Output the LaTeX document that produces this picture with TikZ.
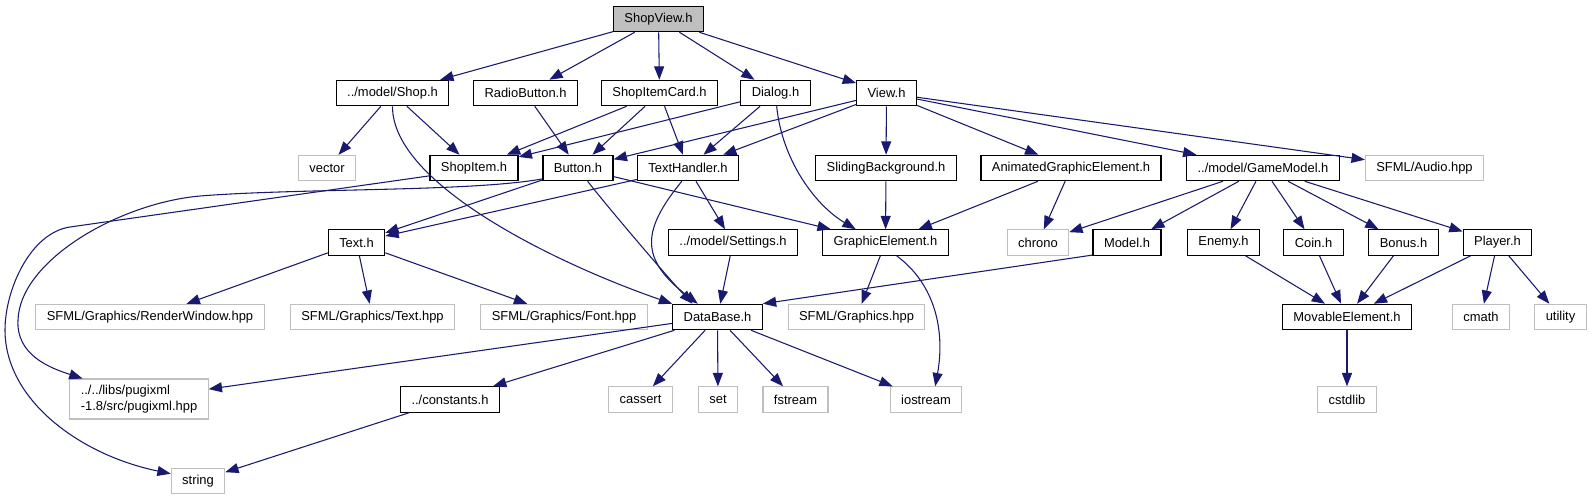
\documentclass[tikz,border=0pt]{standalone}
\usepackage{fontspec}
\setmainfont{Liberation Sans}
\usepackage{xcolor}
\usepackage{tikz}
\usetikzlibrary{arrows.meta}

\definecolor{kante}{HTML}{191970}
\definecolor{grau}{HTML}{BFBFBF}

\begin{document}
\begin{tikzpicture}[x=0.75pt, y=-0.75pt, >={Triangle[length=10pt, width=7.5pt]},
    font=\fontsize{9.7}{11.6}\selectfont,
    datei/.style={draw=black, line width=0.9pt, fill=white, inner xsep=8.2pt, inner ysep=3pt, minimum height=19pt},
    extern/.style={draw=grau, line width=0.8pt, fill=white, inner xsep=8.2pt, inner ysep=3pt, minimum height=19pt},
    pfeil/.style={->, draw=kante, line width=0.8pt}]

    \useasboundingbox (0,0) rectangle (1593,500);

    % --- Zeile 1: Startdatei ---
    \node[datei, fill=grau] (shopview) at (658.5,19) {ShopView.h};

    % --- Zeile 2 ---
    \node[datei] (shop) at (392.5,93) {../model/Shop.h};
    \node[datei] (radiobutton) at (525.5,93) {RadioButton.h};
    \node[datei] (shopitemcard) at (659.5,93) {ShopItemCard.h};
    \node[datei] (dialog) at (775.5,93) {Dialog.h};
    \node[datei] (view) at (886.5,93) {View.h};

    % --- Zeile 3 ---
    \node[extern] (vector) at (327,168) {vector};
    \node[datei] (shopitem) at (474,168) {ShopItem.h};
    \node[datei] (button) at (578,168) {Button.h};
    \node[datei] (texthandler) at (688,168) {TextHandler.h};
    \node[datei] (sliding) at (886,168) {SlidingBackground.h};
    \node[datei] (animated) at (1071,168) {AnimatedGraphicElement.h};
    \node[datei] (gamemodel) at (1263,168) {../model/GameModel.h};
    \node[extern] (audio) at (1424.5,168) {SFML/Audio.hpp};

    % --- Zeile 4 ---
    \node[datei] (text) at (356.5,242.5) {Text.h};
    \node[datei] (settings) at (733,242.5) {../model/Settings.h};
    \node[datei] (graphic) at (885.5,242.5) {GraphicElement.h};
    \node[extern] (chrono) at (1038,242.5) {chrono};
    \node[datei] (model) at (1127,242.5) {Model.h};
    \node[datei] (enemy) at (1223.5,242.5) {Enemy.h};
    \node[datei] (coin) at (1313.5,242.5) {Coin.h};
    \node[datei] (bonus) at (1403.5,242.5) {Bonus.h};
    \node[datei] (player) at (1497.5,242.5) {Player.h};

    % --- Zeile 5 ---
    \node[extern] (renderwindow) at (150,317) {SFML/Graphics/RenderWindow.hpp};
    \node[extern] (texthpp) at (372.5,317) {SFML/Graphics/Text.hpp};
    \node[extern] (font) at (564,317) {SFML/Graphics/Font.hpp};
    \node[datei] (database) at (717.5,317) {DataBase.h};
    \node[extern] (graphicshpp) at (856.5,317) {SFML/Graphics.hpp};
    \node[datei] (movable) at (1347,317) {MovableElement.h};
    \node[extern] (cmath) at (1481,317) {cmath};
    \node[extern] (utility) at (1560.5,317) {utility};

    % --- Zeile 6 und 7 ---
    \node[extern, align=left, minimum height=30pt] (pugixml) at (139,399) {../../libs/pugixml\\-1.8/src/pugixml.hpp};
    \node[datei] (constants) at (450,399.5) {../constants.h};
    \node[extern] (cassert) at (640.5,399.5) {cassert};
    \node[extern] (set) at (718,399.5) {set};
    \node[extern] (fstream) at (795.5,399.5) {fstream};
    \node[extern] (iostream) at (926,399.5) {iostream};
    \node[extern] (cstdlib) at (1347,399.5) {cstdlib};
    \node[extern] (string) at (198,481) {string};

    % --- Kanten ---
    \draw[pfeil] (shopview) -- (shop);
    \draw[pfeil] (shopview) -- (radiobutton);
    \draw[pfeil] (shopview) -- (shopitemcard);
    \draw[pfeil] (shopview) -- (dialog);
    \draw[pfeil] (shopview) -- (view);

    \draw[pfeil] (shop) -- (vector);
    \draw[pfeil] (shop) -- (shopitem);
    \draw[pfeil] (shop.south) .. controls (392,185) and (560,265) .. (database.north west);
    \draw[pfeil] (radiobutton) -- (button);
    \draw[pfeil] (shopitemcard) -- (shopitem);
    \draw[pfeil] (shopitemcard) -- (button);
    \draw[pfeil] (shopitemcard) -- (texthandler);
    \draw[pfeil] (dialog) -- (shopitem);
    \draw[pfeil] (dialog) -- (texthandler);
    \draw[pfeil] (dialog.-85) .. controls (782,160) and (815,205) .. (graphic.156);

    % View.h
    \draw[pfeil] (view) -- (button);
    \draw[pfeil] (view) -- (texthandler);
    \draw[pfeil] (view) -- (sliding);
    \draw[pfeil] (view) -- (animated);
    \draw[pfeil] (view) -- (gamemodel);
    \draw[pfeil] (view) -- (audio);

    % lange Bögen links
    \draw[pfeil] (shopitem.190) -- (70,227) .. controls (30,233) and (5,290) .. (5,330)
        .. controls (5,400) and (80,455) .. (string.165);
    \draw[pfeil] (button.197) .. controls (470,192) and (300,188) .. (200,196)
        .. controls (120,203) and (20,260) .. (18,320) .. controls (16,355) and (50,368) .. (pugixml.160);

    \draw[pfeil] (button) -- (text);
    \draw[pfeil] (button.-54) .. controls (610,210) and (670,280) .. (database.152);
    \draw[pfeil] (button) -- (graphic);
    \draw[pfeil] (texthandler) -- (text);
    \draw[pfeil] (texthandler) -- (settings);
    \draw[pfeil] (texthandler.-115) .. controls (642,230) and (639,259) .. (database.146);
    \draw[pfeil] (sliding) -- (graphic);
    \draw[pfeil] (animated) -- (graphic);
    \draw[pfeil] (animated) -- (chrono);

    % GameModel
    \draw[pfeil] (gamemodel) -- (chrono);
    \draw[pfeil] (gamemodel) -- (model);
    \draw[pfeil] (gamemodel) -- (enemy);
    \draw[pfeil] (gamemodel) -- (coin);
    \draw[pfeil] (gamemodel) -- (bonus);
    \draw[pfeil] (gamemodel) -- (player);

    \draw[pfeil] (text) -- (renderwindow);
    \draw[pfeil] (text) -- (texthpp);
    \draw[pfeil] (text) -- (font);
    \draw[pfeil] (settings) -- (database);
    \draw[pfeil] (graphic) -- (graphicshpp);
    \draw[pfeil] (graphic.-50) .. controls (936,285) and (945,332) .. (iostream.55);
    \draw[pfeil] (model.200) -- (database.north east);
    \draw[pfeil] (enemy) -- (movable);
    \draw[pfeil] (coin) -- (movable);
    \draw[pfeil] (bonus) -- (movable);
    \draw[pfeil] (player) -- (movable);
    \draw[pfeil] (player) -- (cmath);
    \draw[pfeil] (player) -- (utility);
    \draw[pfeil] (movable) -- (cstdlib);

    % DataBase.h
    \draw[pfeil] (database) -- (pugixml);
    \draw[pfeil] (database) -- (constants);
    \draw[pfeil] (database) -- (cassert);
    \draw[pfeil] (database) -- (set);
    \draw[pfeil] (database) -- (fstream);
    \draw[pfeil] (database) -- (iostream);
    \draw[pfeil] (constants) -- (string);

\end{tikzpicture}
\end{document}
